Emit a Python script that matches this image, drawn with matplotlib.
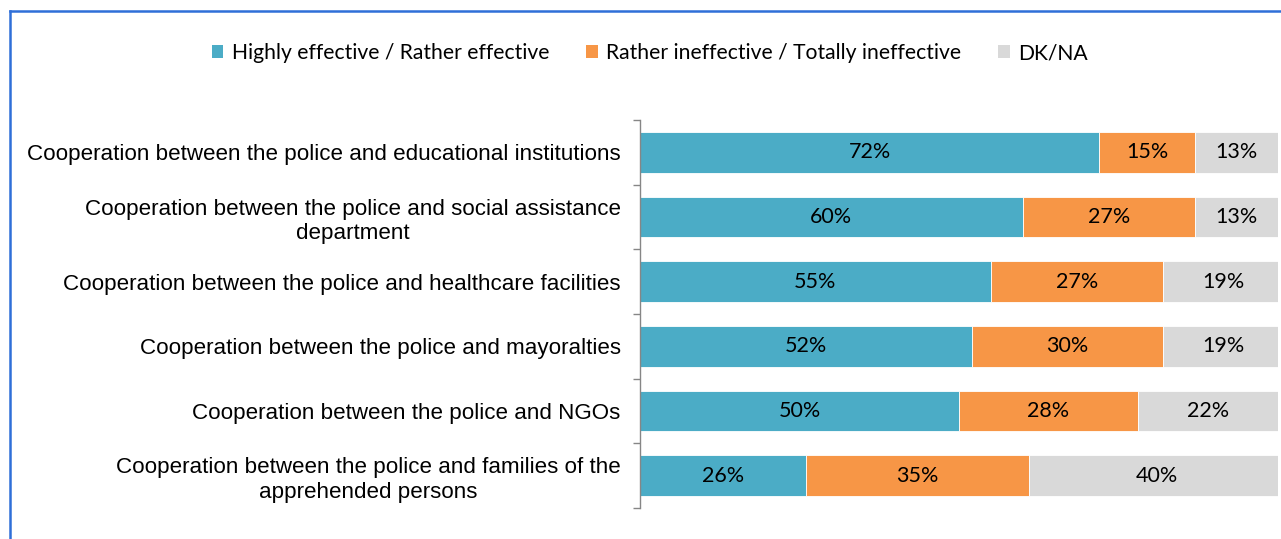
import matplotlib
matplotlib.use("Agg")
import matplotlib.pyplot as plt
from matplotlib.patches import Patch
from matplotlib.lines import Line2D
import numpy as np

categories = [
    "Cooperation between the police and educational institutions",
    "Cooperation between the police and social assistance\ndepartment",
    "Cooperation between the police and healthcare facilities",
    "Cooperation between the police and mayoralties",
    "Cooperation between the police and NGOs",
    "Cooperation between the police and families of the\napprehended persons",
]
effective = [72, 60, 55, 52, 50, 26]
ineffective = [15, 27, 27, 30, 28, 35]
dkna = [13, 13, 19, 19, 22, 40]
series_names = ["Highly effective / Rather effective",
                "Rather ineffective / Totally ineffective",
                "DK/NA"]
colors = ["#4BACC6", "#F79646", "#D9D9D9"]

W, H = 1281, 539
fig = plt.figure(figsize=(W / 100, H / 100), dpi=100)
ax = fig.add_axes([640 / W, 1 - 508 / H, (1278 - 640) / W, (508 - 120) / H])

y = np.arange(len(categories))
left = np.zeros(len(categories))
for vals, name, col in zip([effective, ineffective, dkna], series_names, colors):
    vals = np.array(vals, dtype=float)
    ax.barh(y, vals, left=left, height=0.63, color=col, label=name,
            edgecolor="white", linewidth=0.6)
    for yi, l, v in zip(y, left, vals):
        ax.text(l + v / 2, yi, f"{int(v)}%", ha="center", va="center",
                fontsize=15.5, family="Lato", color="black")
    left += vals

ax.set_xlim(0, 100)
ax.set_ylim(len(categories) - 0.5, -0.5)
ax.set_yticks(y)
ax.set_yticklabels(categories, fontsize=16.15, family="Liberation Sans",
                   multialignment="center", linespacing=1.25)
ax.tick_params(axis="y", which="major", length=0, pad=14)
ax.set_yticks(np.arange(-0.5, len(categories), 1.0), minor=True)
ax.tick_params(axis="y", which="minor", length=5, color="#868686", width=1)
ax.set_xticks([])
for s in ["top", "right", "bottom"]:
    ax.spines[s].set_visible(False)
ax.spines["left"].set_color("#868686")
ax.spines["left"].set_linewidth(1)

handles = [Patch(facecolor=c, edgecolor="none") for c in colors]
fig.legend(handles, series_names, loc="center", bbox_to_anchor=(650 / W, 1 - 53 / H),
           ncol=3, frameon=False, prop={"family": "Lato", "size": 15.2},
           handlelength=0.55, handleheight=0.55, handletextpad=0.4,
           columnspacing=1.75)

# outer blue frame (top and left visible)
fig.add_artist(Line2D([10 / W, 1.0], [1 - 11 / H, 1 - 11 / H], color="#2F6FD8",
                      linewidth=1.8, transform=fig.transFigure))
fig.add_artist(Line2D([10 / W, 10 / W], [0.0, 1 - 11 / H], color="#2F6FD8",
                      linewidth=1.8, transform=fig.transFigure))

fig.savefig("out.png", dpi=100)
